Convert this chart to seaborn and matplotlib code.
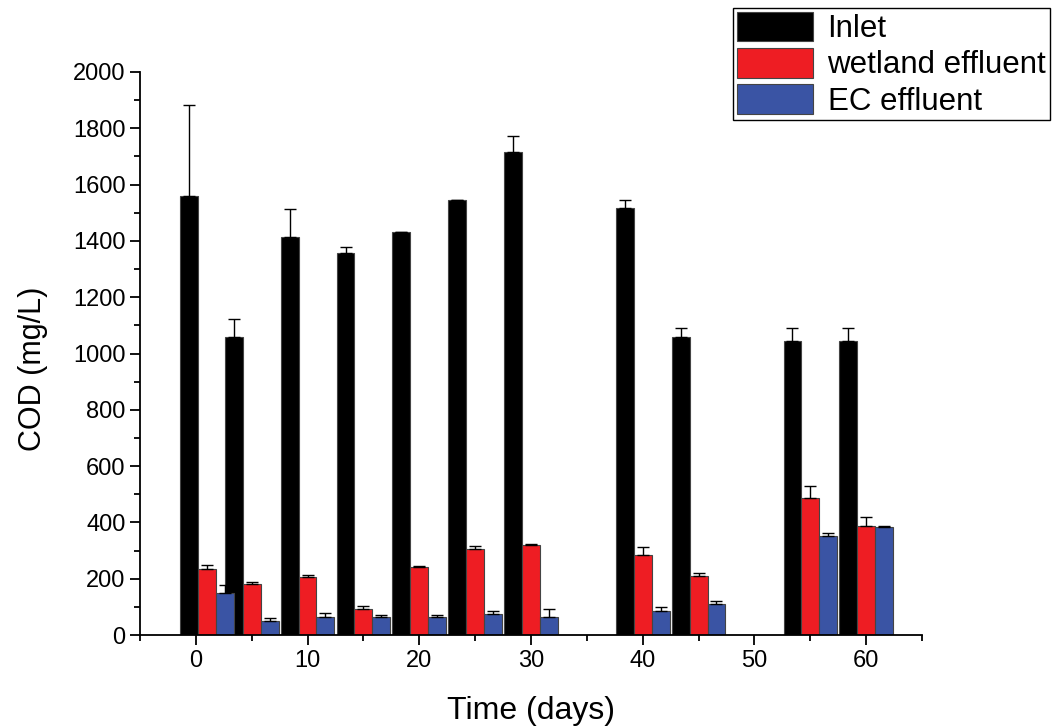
import matplotlib.pyplot as plt
import matplotlib.ticker as plticker
import pandas as pd
import seaborn as sns

sns.set_style("ticks")
plt.rcParams['font.family'] = ['Liberation Sans', 'DejaVu Sans']
plt.rcParams['text.color'] = 'black'
plt.rcParams['axes.labelcolor'] = 'black'
plt.rcParams['xtick.color'] = 'black'
plt.rcParams['ytick.color'] = 'black'

# values
days = [1, 5, 10, 15, 20, 25, 30, 40, 45, 55, 60]
inlet = [1559, 1060, 1415, 1358, 1430, 1545, 1715, 1516, 1060, 1044, 1044]
inlet_err = [325, 62, 100, 19, 3, 0, 58, 31, 29, 45, 46]
wetland = [235, 180, 207, 92, 243, 305, 320, 285, 208, 488, 388]
wetland_err = [15, 8, 8, 12, 3, 12, 3, 28, 12, 40, 30]
ec = [148, 50, 65, 65, 65, 76, 65, 87, 110, 350, 385]
ec_err = [28, 12, 12, 7, 5, 11, 26, 11, 11, 12, 3]

series = ['Inlet', 'wetland effluent', 'EC effluent']
colors = ['#000000', '#EE1D23', '#3A54A4']

df = pd.concat([
    pd.DataFrame({'day': days, 'cod': inlet, 'series': series[0]}),
    pd.DataFrame({'day': days, 'cod': wetland, 'series': series[1]}),
    pd.DataFrame({'day': days, 'cod': ec, 'series': series[2]}),
])
errs = [inlet_err, wetland_err, ec_err]

fig = plt.figure(figsize=(10.54, 7.27), dpi=100)
ax = fig.add_axes([0.1328, 0.1265, 0.742, 0.7745])

sns.barplot(data=df, x='day', y='cod', hue='series', hue_order=series,
            palette=colors, saturation=1, native_scale=True, width=1.2, gap=0,
            errorbar=None, edgecolor='#444444', linewidth=0.8, ax=ax)

# one-sided error bars on top of each bar
for cont, err in zip(ax.containers, errs):
    xs = [b.get_x() + b.get_width() / 2 for b in cont]
    ys = [b.get_height() for b in cont]
    ax.errorbar(xs, ys, yerr=[[0] * len(err), err], fmt='none',
                ecolor='black', elinewidth=1, capsize=4.5, capthick=1, zorder=5)

handles, labels = ax.get_legend_handles_labels()
if ax.get_legend() is not None:
    ax.get_legend().remove()
leg = fig.legend(handles[:3], labels[:3], loc='upper right',
                 bbox_to_anchor=(1050 / 1054, 1 - 8 / 727),
                 fontsize=22.5, handlelength=2.45, handleheight=1.08,
                 labelspacing=0.12, borderpad=0.12, handletextpad=0.45,
                 borderaxespad=0, fancybox=False, framealpha=1)
leg.get_frame().set_edgecolor('black')
leg.get_frame().set_linewidth(1)

ax.set_xlim(-5, 65)
ax.set_ylim(0, 2000)
ax.xaxis.set_major_locator(plticker.MultipleLocator(10))
ax.xaxis.set_minor_locator(plticker.MultipleLocator(5))
ax.yaxis.set_major_locator(plticker.MultipleLocator(200))
ax.yaxis.set_minor_locator(plticker.MultipleLocator(100))
ax.tick_params(which='major', direction='out', length=7, width=1.3, labelsize=17)
ax.tick_params(which='minor', direction='out', length=4, width=1.3)

ax.set_xlabel('Time (days)', fontsize=23)
ax.set_ylabel('COD (mg/L)', fontsize=22)
ax.xaxis.set_label_coords(0.5, -0.108)
ax.yaxis.set_label_coords(-0.118, 0.472)

sns.despine(ax=ax)
for s in ['left', 'bottom']:
    ax.spines[s].set_linewidth(1.3)
    ax.spines[s].set_color('black')

fig.savefig('out.png', dpi=100)
